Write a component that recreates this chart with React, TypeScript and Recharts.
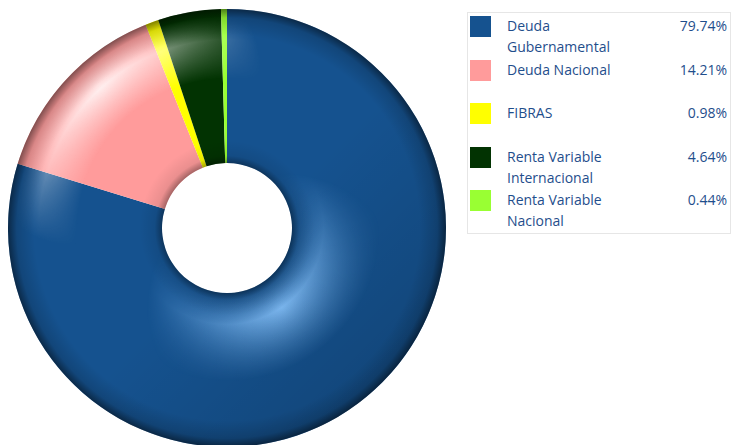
import React from 'react';
import { PieChart, Pie, Cell, Legend } from 'recharts';

const categories = ['Deuda Gubernamental', 'Deuda Nacional', 'FIBRAS', 'Renta Variable Internacional', 'Renta Variable Nacional'];
const legendLines = [['Deuda', 'Gubernamental'], ['Deuda Nacional'], ['FIBRAS'], ['Renta Variable', 'Internacional'], ['Renta Variable', 'Nacional']];
const shares = [79.74, 14.21, 0.98, 4.64, 0.44];
const colors = ['#15528F', '#FF9B9B', '#FFFF00', '#023302', '#99FF33'];

const data = categories.map((name, i) => ({ name, value: shares[i] }));
const ring = [{ name: 'ring', value: 1 }];

const CX = 227;
const CY = 228;
const R_OUT = 219;
const R_IN = 65;

// legend drawn as a fixed table, like the original report widget
function LegendBox() {
  return (
    <div style={{
      width: 262,
      height: 220,
      border: '1px solid #e6e6e6',
      fontFamily: '"Open Sans", sans-serif',
      fontSize: 14,
      color: '#1F4E8C',
      position: 'relative',
    }}>
      {categories.map((c, i) => (
        <div key={c} style={{ position: 'absolute', left: 0, top: 2 + Math.round(i * 43.6), width: 262 }}>
          <div style={{ position: 'absolute', left: 2, top: 1, width: 21, height: 21, background: colors[i] }} />
          <div style={{ position: 'absolute', left: 39, top: 0, lineHeight: '21px', whiteSpace: 'nowrap' }}>
            {legendLines[i].map((l, j) => <div key={j}>{l}</div>)}
          </div>
          <div style={{ position: 'absolute', right: 3, top: 0, lineHeight: '21px' }}>
            {shares[i].toFixed(2)}%
          </div>
        </div>
      ))}
    </div>
  );
}

function Overlay({ fill, mask }: { fill: string; mask?: string }) {
  return (
    <Pie data={ring} dataKey="value" cx={CX} cy={CY} innerRadius={R_IN} outerRadius={R_OUT}
      startAngle={90} endAngle={-270} stroke="none" isAnimationActive={false}>
      <Cell fill={fill} mask={mask} style={mask ? { mask } : undefined} />
    </Pie>
  );
}

export default function App() {
  return (
    <div style={{ position: 'absolute', left: 0, top: 0, width: 731, height: 445, background: '#fff' }}>
      <PieChart width={731} height={445} margin={{ top: 0, right: 0, bottom: 0, left: 0 }}>
        <defs>
          {/* tube profile: dark rims at inner and outer edge */}
          <radialGradient id="tube" gradientUnits="userSpaceOnUse" cx={CX} cy={CY} r={R_OUT}>
            <stop offset="0.297" stopColor="#000" stopOpacity={0.35} />
            <stop offset="0.33" stopColor="#000" stopOpacity={0.08} />
            <stop offset="0.4" stopColor="#000" stopOpacity={0} />
            <stop offset="0.88" stopColor="#000" stopOpacity={0} />
            <stop offset="0.96" stopColor="#000" stopOpacity={0.15} />
            <stop offset="1" stopColor="#000" stopOpacity={0.5} />
          </radialGradient>
          <linearGradient id="shadeG" gradientUnits="userSpaceOnUse" x1={60} y1={60} x2={420} y2={420}>
            <stop offset="0" stopColor="#000" stopOpacity={0} />
            <stop offset="0.5" stopColor="#000" stopOpacity={0} />
            <stop offset="1" stopColor="#000" stopOpacity={0.18} />
          </linearGradient>
          {/* outer highlight band (top-left) */}
          <radialGradient id="bandOut" gradientUnits="userSpaceOnUse" cx={CX} cy={CY} r={R_OUT}>
            <stop offset="0.68" stopColor="#fff" stopOpacity={0} />
            <stop offset="0.86" stopColor="#fff" stopOpacity={0.85} />
            <stop offset="0.97" stopColor="#fff" stopOpacity={0} />
          </radialGradient>
          <radialGradient id="maskOutG" gradientUnits="userSpaceOnUse" cx={98} cy={85} r={165}>
            <stop offset="0" stopColor="#fff" />
            <stop offset="1" stopColor="#000" />
          </radialGradient>
          <mask id="maskOut" maskUnits="userSpaceOnUse" x={0} y={0} width={731} height={445}>
            <rect x={0} y={0} width={731} height={445} fill="url(#maskOutG)" />
          </mask>
          {/* inner highlight band (bottom-right) */}
          <radialGradient id="bandIn" gradientUnits="userSpaceOnUse" cx={CX} cy={CY} r={R_OUT}>
            <stop offset="0.3" stopColor="#86c4ff" stopOpacity={0} />
            <stop offset="0.44" stopColor="#86c4ff" stopOpacity={0.95} />
            <stop offset="0.7" stopColor="#86c4ff" stopOpacity={0} />
          </radialGradient>
          <radialGradient id="maskInG" gradientUnits="userSpaceOnUse" cx={282} cy={308} r={135}>
            <stop offset="0" stopColor="#fff" />
            <stop offset="1" stopColor="#000" />
          </radialGradient>
          <mask id="maskIn" maskUnits="userSpaceOnUse" x={0} y={0} width={731} height={445}>
            <rect x={0} y={0} width={731} height={445} fill="url(#maskInG)" />
          </mask>
        </defs>
        <Pie
          data={data}
          dataKey="value"
          nameKey="name"
          cx={CX}
          cy={CY}
          innerRadius={R_IN}
          outerRadius={R_OUT}
          startAngle={90}
          endAngle={-270}
          stroke="none"
          isAnimationActive={false}
        >
          {data.map((d, i) => <Cell key={d.name} fill={colors[i]} />)}
        </Pie>
        {Overlay({ fill: 'url(#bandOut)', mask: 'url(#maskOut)' })}
        {Overlay({ fill: 'url(#bandIn)', mask: 'url(#maskIn)' })}
        {Overlay({ fill: 'url(#shadeG)' })}
        {Overlay({ fill: 'url(#tube)' })}
        <Legend
          content={() => <LegendBox />}
          wrapperStyle={{ position: 'absolute', left: 467, top: 12, width: 264 }}
        />
      </PieChart>
    </div>
  );
}
